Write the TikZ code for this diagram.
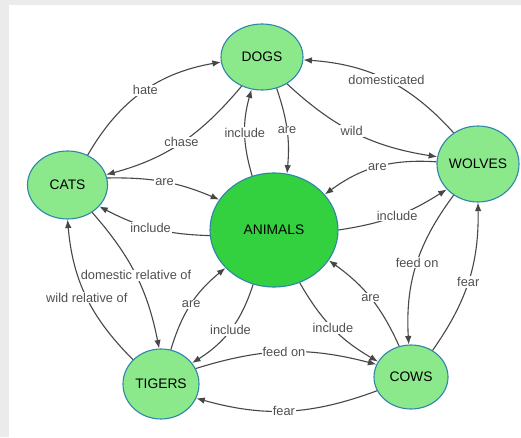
\documentclass[tikz,border=0pt]{standalone}
\usepackage{fontspec}
\setmainfont{Liberation Sans}
\usetikzlibrary{shapes.geometric,arrows.meta}
\definecolor{bggray}{HTML}{EBEBEB}
\definecolor{nodegreen}{HTML}{8BE98B}
\definecolor{coregreen}{HTML}{33D040}
\definecolor{rimblue}{HTML}{2E86AB}
\definecolor{linkgray}{HTML}{474747}
\definecolor{labelgray}{HTML}{505050}
% zero-width box so the ellipse keeps its given size
\newcommand\nodetext[1]{\makebox[0pt]{#1}}
\begin{document}
\begin{tikzpicture}[x=1pt,y=1pt,
  animal/.style={ellipse, draw=rimblue, line width=1.1pt, fill=nodegreen,
    inner sep=0pt, font=\fontsize{13.8}{15}\selectfont},
  core/.style={animal, fill=coregreen},
  link/.style={draw=linkgray, line width=1.1pt, -{Latex[length=8.5pt,width=6.5pt]}},
  lbl/.style={fill=white, inner sep=1pt, text=labelgray,
    font=\fontsize{12.8}{14}\selectfont},
]
\useasboundingbox (0,0) rectangle (521,437);
\fill[bggray] (0,0) rectangle (521,437);
\fill[white] (9,0) rectangle (521,432);

% nodes
\node[animal, minimum width=82pt, minimum height=66pt] (dogs) at (262,380) {\nodetext{DOGS}};
\node[animal, minimum width=80pt, minimum height=68pt] (cats) at (67.5,252) {\nodetext{CATS}};
\node[animal, minimum width=82pt, minimum height=76pt] (wolves) at (478,273) {\nodetext{WOLVES}};
\node[core, minimum width=128pt, minimum height=114pt] (animals) at (274,207) {\nodetext{ANIMALS}};
\node[animal, minimum width=76pt, minimum height=70pt] (tigers) at (161,53) {\nodetext{TIGERS}};
\node[animal, minimum width=74pt, minimum height=64pt] (cows) at (411,60) {\nodetext{COWS}};

% relations
\draw[link] (cats.56) to[bend left=25] node[lbl,pos=.52]{hate} (dogs.187);
\draw[link] (dogs.235) to[out=230,in=15] node[lbl,pos=.5]{chase} (cats.15);
\draw[link] (animals.112) to[bend left=16] node[lbl]{include} (dogs.252);
\draw[link] (dogs.295) to[bend left=12] node[lbl]{are} (animals.77);
\draw[link] (dogs.313) to[bend right=17] node[lbl,pos=.47]{wild} (wolves.170);
\draw[link] (wolves.128) to[bend right=22] node[lbl,pos=.5]{domesticated} (dogs.356);
\draw[link] (wolves.177) to[bend right=20] node[lbl]{are} (animals.35);
\draw[link] (animals.0) to[bend right=12] node[lbl,pos=.52]{include} (wolves.219);
\draw[link] (cats.10) to[bend left=12] node[lbl]{are} (animals.151);
\draw[link] (animals.185) to[bend left=13] node[lbl,pos=.52]{include} (cats.326);
\draw[link] (cats.312) to[bend left=15] node[lbl,pos=.5]{domestic relative of} (tigers.93);
\draw[link] (tigers.139) to[bend left=20] node[lbl,pos=.49]{wild relative of} (cats.270);
\draw[link] (tigers.74) to[bend left=17] node[lbl,pos=.5]{are} (animals.218);
\draw[link] (animals.249) to[bend left=20] node[lbl,pos=.5]{include} (tigers.34);
\draw[link] (animals.296) to[bend right=15] node[lbl,pos=.5]{include} (cows.155);
\draw[link] (cows.111) to[bend right=15] node[lbl,pos=.5]{are} (animals.331);
\draw[link] (wolves.232) to[bend right=20] node[lbl,pos=.48]{feed on} (cows.94);
\draw[link] (cows.51) to[bend right=18] node[lbl,pos=.49]{fear} (wolves.270);
\draw[link] (tigers.24) to[bend left=16] node[lbl,pos=.49]{feed on} (cows.160);
\draw[link] (cows.202) to[bend left=18] node[lbl,pos=.52]{fear} (tigers.338);
\end{tikzpicture}
\end{document}
